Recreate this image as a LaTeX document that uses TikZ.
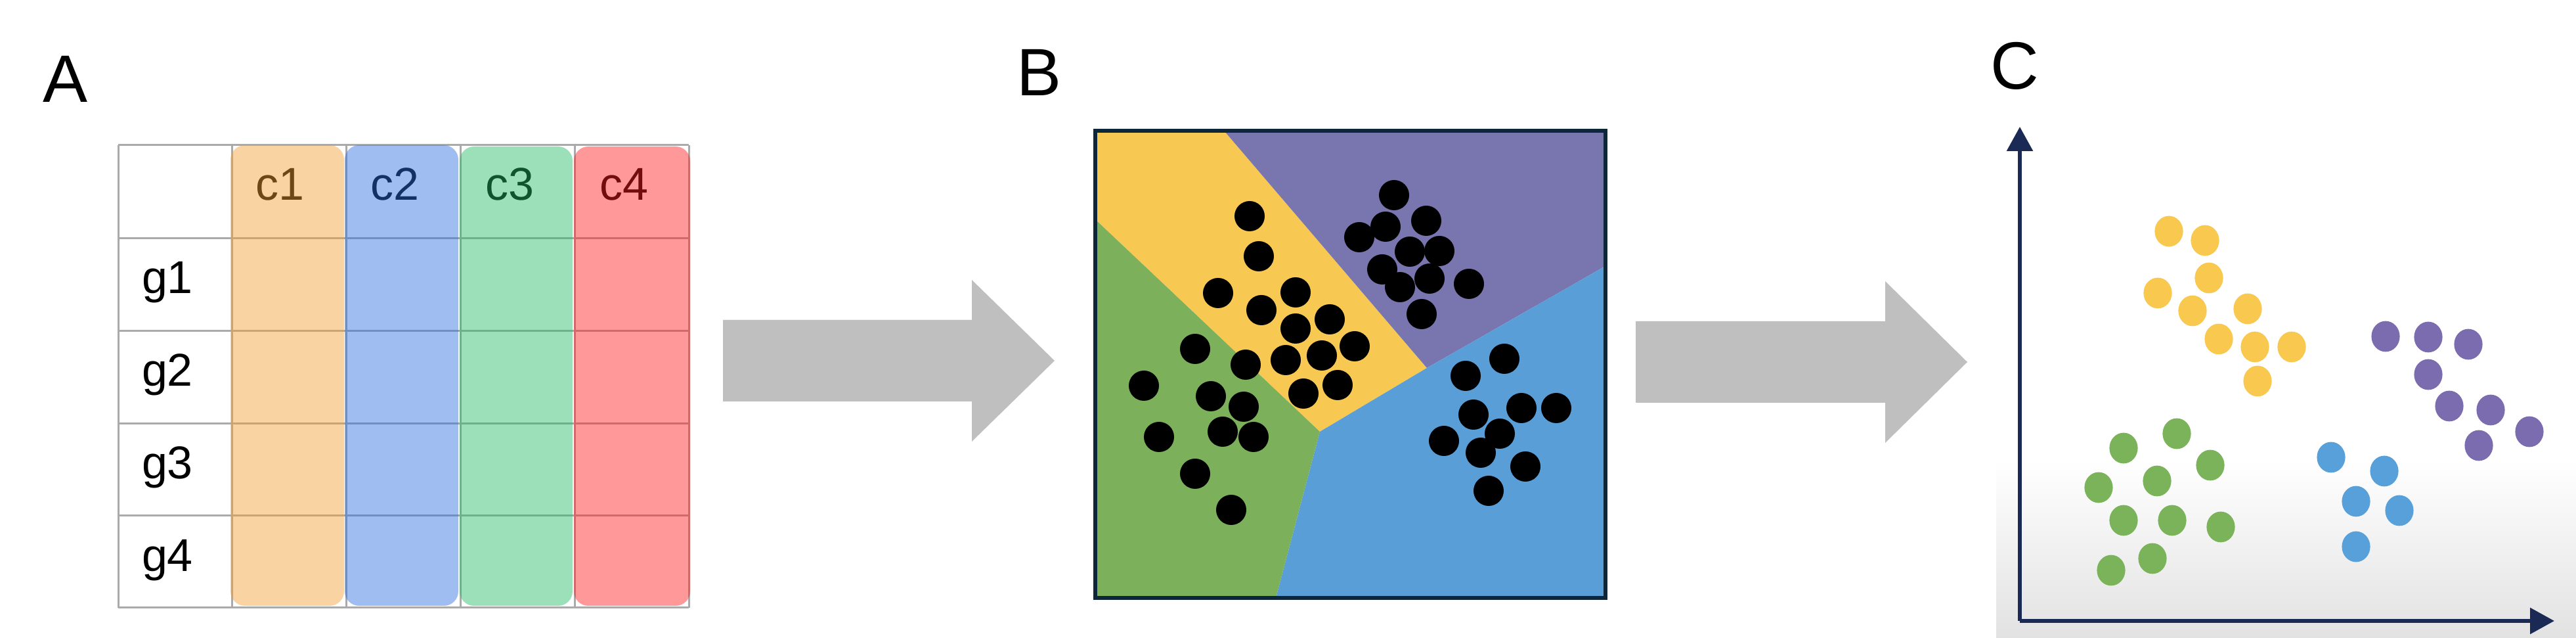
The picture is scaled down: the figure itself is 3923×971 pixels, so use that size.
\documentclass[tikz,border=0pt]{standalone}
\usepackage{fontspec}
\setmainfont{Liberation Sans}
\usetikzlibrary{arrows.meta}
\definecolor{gridgray}{RGB}{170,170,170}
\definecolor{cone}{RGB}{242,159,50}
\definecolor{ctwo}{RGB}{44,109,222}
\definecolor{cthree}{RGB}{36,187,102}
\definecolor{cfour}{RGB}{255,29,29}
\definecolor{bigarrow}{RGB}{191,191,191}
\definecolor{Byel}{RGB}{247,200,82}
\definecolor{Bpur}{RGB}{121,117,174}
\definecolor{Bgrn}{RGB}{124,176,90}
\definecolor{Bblu}{RGB}{90,158,216}
\definecolor{Bframe}{RGB}{14,38,57}
\definecolor{Cyel}{RGB}{248,200,79}
\definecolor{Cpur}{RGB}{123,108,175}
\definecolor{Cgrn}{RGB}{123,179,90}
\definecolor{Cblu}{RGB}{88,160,218}
\definecolor{axisnavy}{RGB}{27,42,85}
\definecolor{bggray}{RGB}{226,226,226}
\tikzset{
  panellabel/.style={inner sep=0pt, font=\fontsize{25.5}{30}\selectfont},
  celltext/.style={inner sep=0pt, anchor=base, font=\fontsize{17.5}{21}\selectfont},
  gridline/.style={draw=gridgray, line width=0.75pt},
  overlay/.style={fill=#1, fill opacity=0.45, rounded corners=5.5pt},
  blockarrow/.style={fill=bigarrow},
  axisline/.style={draw=axisnavy, line width=1.5pt, -{Triangle[length=9.25pt,width=9.75pt]}},
}
\begin{document}
\begin{tikzpicture}[x=0.25pt,y=-0.25pt]
\useasboundingbox (0,0) rectangle (3923,971);
\fill[white] (0,0) rectangle (3923,971);

% ---------- panel labels
\node[panellabel] (labA) at (100,120) {A};
\node[panellabel] (labB) at (1583,110) {B};
\node[panellabel] (labC) at (3068,100) {C};

% ---------- panel A: table
\foreach \x in {180,353.8,527.6,701.4,875.2,1049}
  \draw[gridline] (\x,221) -- (\x,925);
\foreach \y in {221,362.5,503.5,644.5,785,925}
  \draw[gridline] (180,\y) -- (1049,\y);
\node[celltext] (c1) at (426,305) {c1};
\node[celltext] (c2) at (601,305) {c2};
\node[celltext] (c3) at (776,305) {c3};
\node[celltext] (c4) at (950,305) {c4};
\node[celltext] (g1) at (255,447) {g1};
\node[celltext] (g2) at (255,588) {g2};
\node[celltext] (g3) at (255,729) {g3};
\node[celltext] (g4) at (255,870) {g4};
\path[overlay=cone]   (351,221) rectangle (524,922);
\path[overlay=ctwo]   (525,221) rectangle (698,922);
\path[overlay=cthree] (700,223) rectangle (872,922);
\path[overlay=cfour]  (874,223) rectangle (1051,922);

% ---------- block arrows
\fill[blockarrow] (1101,487) -- (1480,487) -- (1480,426) -- (1606,549) -- (1480,672) -- (1480,611) -- (1101,611) -- cycle;
\fill[blockarrow] (2491,489) -- (2871,489) -- (2871,428) -- (2996,551) -- (2871,674) -- (2871,613) -- (2491,613) -- cycle;

% ---------- panel B: partition
\fill[Byel] (1668,200) -- (1865,200) -- (2173,560) -- (2010,657) -- (1668,334) -- cycle;
\fill[Bpur] (1865,200) -- (2443,200) -- (2443,406) -- (2173,560) -- cycle;
\fill[Bblu] (2173,560) -- (2443,406) -- (2443,910) -- (1943,910) -- (2010,657) -- cycle;
\fill[Bgrn] (1668,334) -- (2010,657) -- (1943,910) -- (1668,910) -- cycle;
\foreach \p in {(1903,329),(1917,390),(1855,446),(1973,445),(1921,472),(2025,486),(1973,500),(2063,527),(2013,541),(1958,548),(1897,555),(2037,586),(1985,599),
  (2123,297),(2172,336),(2110,345),(2070,361),(2147,383),(2192,382),(2105,410),(2177,424),(2132,437),(2237,432),(2165,478),
  (1820,531),(1742,587),(1844,603),(1894,619),(1862,657),(1909,665),(1765,665),(1820,721),(1875,776),
  (2291,546),(2232,572),(2244,631),(2317,621),(2370,621),(2284,660),(2199,671),(2255,689),(2323,710),(2267,747)}
  \fill[black] \p circle [radius=5.75pt];
\draw[draw=Bframe, line width=1.5pt] (1667.5,199.5) rectangle (2444.5,910.5);

% ---------- panel C: scatter plot
\shade[top color=white, bottom color=bggray] (3040,700) rectangle (3923,971);
\coordinate (O) at (3076,945);
\coordinate (ytip) at (3076,193);
\coordinate (xtip) at (3890,945);
\draw[axisline] (O) -- (ytip);
\draw[axisline] (O) -- (xtip);
\foreach \p in {(3303,352),(3358,366),(3364,423),(3286,446),(3339,473),(3423,470),(3379,516),(3434,528),(3490,528),(3438,580)}
  \fill[Cyel] \p circle [x radius=5.4pt, y radius=5.85pt];
\foreach \p in {(3633,512),(3698,513),(3759,524),(3698,570),(3730,618),(3793,624),(3852,657),(3775,678)}
  \fill[Cpur] \p circle [x radius=5.4pt, y radius=5.85pt];
\foreach \p in {(3315,660),(3234,682),(3366,708),(3285,732),(3196,742),(3234,792),(3308,792),(3382,802),(3278,850),(3215,868)}
  \fill[Cgrn] \p circle [x radius=5.4pt, y radius=5.85pt];
\foreach \p in {(3550,696),(3631,717),(3588,763),(3654,777),(3588,832)}
  \fill[Cblu] \p circle [x radius=5.4pt, y radius=5.85pt];
\end{tikzpicture}
\end{document}
